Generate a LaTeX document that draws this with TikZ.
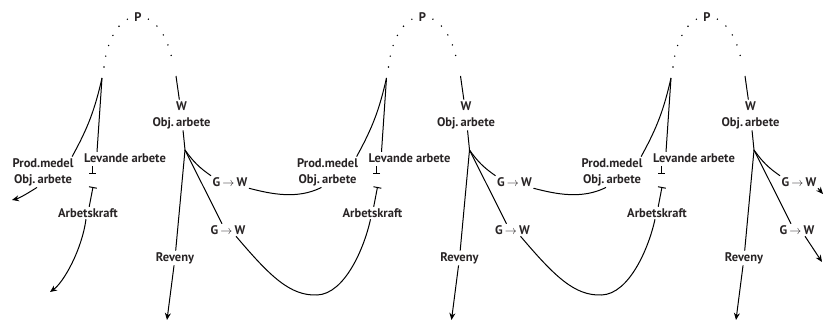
\documentclass[tikz,border=0pt]{standalone}
\usepackage{fontspec}
\setmainfont{PT Sans}
\usetikzlibrary{arrows.meta}
\definecolor{txt}{RGB}{40,36,37}
\tikzset{
  lbl/.style={font=\bfseries\fontsize{12.5}{16}\selectfont, text=txt, inner sep=1.5pt, align=center},
  conn/.style={line width=1pt, black},
  dotarc/.style={line width=1.6pt, line cap=round, dash pattern=on 0pt off 11pt},
  tip/.style={-{Stealth[length=7pt,width=6pt]}},
}
\begin{document}
\begin{tikzpicture}[x=1pt,y=-1pt]
\useasboundingbox (0,0) rectangle (824,323);
\foreach \i in {0,1,2}{
\begin{scope}[xshift=284.5*\i]
  \coordinate (dl\i) at (104,67);
  \coordinate (dr\i) at (173,64);
  \draw[dotarc] (dl\i) .. controls (112,0) and (162,0) .. (dr\i);
  \node[lbl, fill=white] (P\i) at (138,17) {P};
  \coordinate (JL\i) at (102,78);
  \coordinate (r\i) at (176,76);
  \coordinate (J\i) at (185,150);
  \node[lbl] (W\i) at (181.5,115) {W\\Obj.\,arbete};
  \node[lbl] (lev\i) at (125,158) {Levande arbete};
  \node[lbl] (prod\i) at (43,172) {Prod.medel\\Obj.\,arbete};
  \node[lbl] (ak\i) at (88,213) {Arbetskraft};
  \node[lbl] (gwa\i) at (230,182) {G\,{\mdseries$\rightarrow$}\,W};
  \node[lbl] (gwb\i) at (228,230) {G\,{\mdseries$\rightarrow$}\,W};
  \node[lbl] (rev\i) at (175,258) {Reveny};
  \coordinate (end\i) at (167,320);
  \coordinate (pa\i) at (92,166);
  \coordinate (pb\i) at (92,174);
  \coordinate (tb\i) at (93,187);
  \coordinate (bot\i) at (317,295);
  \draw[conn] (r\i) -- (W\i);
  \draw[conn] (W\i) -- (J\i);
  \draw[conn] (JL\i) to[bend left=8] ([xshift=-3]prod\i.north east);
  \draw[conn] (JL\i) -- ([xshift=-28]lev\i.north);
  \draw[conn, -{Bar[width=7pt]}] (pa\i) -- (pb\i);
  \draw[conn, {Bar[width=8pt]}-] (tb\i) -- (ak\i);
  \draw[conn] (J\i) to[bend right=10] (gwa\i.north west);
  \draw[conn] (J\i) -- ([xshift=-6]gwb\i.north);
  \draw[conn] (J\i) -- (rev\i);
  \draw[conn, tip] (rev\i) -- (end\i);
\end{scope}
}
% connections between units
\foreach \i/\j in {0/1,1/2}{
  \draw[conn] (gwa\i.south east) .. controls +(23,6) and +(-24,12) .. ([xshift=-6]prod\j.south);
  \draw[conn] ([xshift=8]gwb\i.south) .. controls +(34,40) and +(-27,1) .. (bot\i)
              .. controls +(28,-1) and +(-6,28) .. ([xshift=-2]ak\j.south);
}
% truncated ends
\coordinate (ea) at (12,200);
\coordinate (eb) at (50,292);
\coordinate (ec) at (823,194);
\coordinate (ed) at (822,262);
\draw[conn, tip] ([xshift=-6]prod0.south) .. controls +(-8,5) and +(8,-2) .. (ea);
\draw[conn, tip] ([xshift=-2]ak0.south) .. controls +(-4,30) and +(14,-10) .. (eb);
\draw[conn, tip] (gwa2.south east) -- (ec);
\draw[conn, tip] ([xshift=8]gwb2.south) -- (ed);
\end{tikzpicture}
\end{document}
